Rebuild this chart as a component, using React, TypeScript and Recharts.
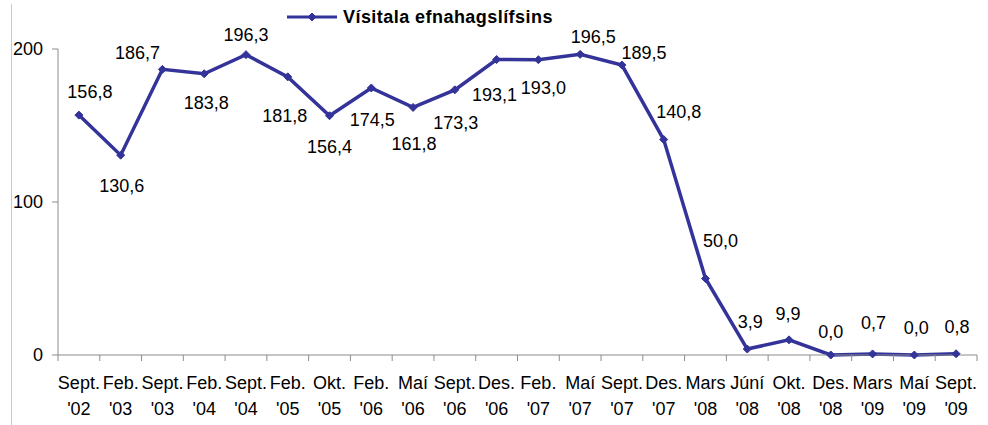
import { LineChart, Line, XAxis, YAxis, LabelList } from "recharts"

const categories = [
  "Sept. '02", "Feb. '03", "Sept. '03", "Feb. '04", "Sept. '04", "Feb. '05",
  "Okt. '05", "Feb. '06", "Maí '06", "Sept. '06", "Des. '06", "Feb. '07",
  "Maí '07", "Sept. '07", "Des. '07", "Mars '08", "Júní '08", "Okt. '08",
  "Des. '08", "Mars '09", "Maí '09", "Sept. '09",
]

const values = [
  156.8, 130.6, 186.7, 183.8, 196.3, 181.8, 156.4, 174.5, 161.8, 173.3, 193.1,
  193.0, 196.5, 189.5, 140.8, 50.0, 3.9, 9.9, 0.0, 0.7, 0.0, 0.8,
]

const yTicks = [0, 100, 200]

const seriesName = "Vísitala efnahagslífsins"

// label offset from the point (dx, dy of the text centre), as placed in the original
const labelOffsets: [number, number][] = [
  [11, -23], [1, 31], [-25, -16], [2, 29], [0, -20], [-3, 39], [0, 31],
  [1, 32], [1, 37], [1, 33], [-2, 35], [5, 28], [13, -17], [22, -12],
  [15, -28], [15, -38], [3, -27], [-1, -26], [0, -23], [1, -31], [2, -27],
  [1, -27],
]

const data = categories.map((name, i) => ({ name, value: values[i] }))

const W = 988
const H = 425
const LEFT = 58
const RIGHT = 11
const TOP = 49
const BOTTOM = 70
const PLOT_BOTTOM = H - BOTTOM
const BAND = (W - LEFT - RIGHT) / categories.length

const BLUE = "#333399"
const GREY = "#8c8c8c"
const FONT = "'Liberation Sans', Arial, sans-serif"

function Diamond(props: any) {
  const { cx, cy } = props
  if (cx == null || cy == null) return null
  const r = 4
  return (
    <path
      d={`M${cx},${cy - r} L${cx + r},${cy} L${cx},${cy + r} L${cx - r},${cy} Z`}
      fill={BLUE}
      stroke={BLUE}
    />
  )
}

function XTick(props: any) {
  const { x, payload, index } = props
  const [l1, l2] = String(payload.value).split(" ")
  const left = x - BAND / 2
  return (
    <g>
      <line x1={left} x2={left} y1={PLOT_BOTTOM} y2={PLOT_BOTTOM + 6} stroke={GREY} />
      {index === categories.length - 1 && (
        <line
          x1={x + BAND / 2}
          x2={x + BAND / 2}
          y1={PLOT_BOTTOM}
          y2={PLOT_BOTTOM + 6}
          stroke={GREY}
        />
      )}
      <text x={x} y={PLOT_BOTTOM + 34} textAnchor="middle" fontSize={18} fill="#000" fontFamily={FONT}>
        {l1}
      </text>
      <text x={x} y={PLOT_BOTTOM + 60} textAnchor="middle" fontSize={18} fill="#000" fontFamily={FONT}>
        {l2}
      </text>
    </g>
  )
}

function ValueLabel(props: any) {
  const { x, y, value, index } = props
  const [dx, dy] = labelOffsets[index] ?? [0, -20]
  return (
    <text
      x={x + dx}
      y={y + dy}
      textAnchor="middle"
      dominantBaseline="central"
      fontSize={18}
      fill="#000"
      fontFamily={FONT}
    >
      {Number(value).toFixed(1).replace(".", ",")}
    </text>
  )
}

export default function App() {
  return (
    <div
      style={{
        position: "absolute",
        left: 0,
        top: 0,
        width: W,
        height: H,
        background: "#fff",
        fontFamily: FONT,
      }}
    >
      {/* grey frame edge on the left */}
      <div
        style={{
          position: "absolute",
          left: 11,
          top: 4,
          width: 1,
          height: H - 4,
          background: "#c8c8c8",
        }}
      />

      {/* legend */}
      <div
        style={{
          position: "absolute",
          left: 287,
          top: 4,
          height: 26,
          display: "flex",
          alignItems: "center",
        }}
      >
        <svg width={50} height={26}>
          <line x1={0} x2={50} y1={13} y2={13} stroke={BLUE} strokeWidth={3} />
          <Diamond cx={25} cy={13} />
        </svg>
        <span
          style={{
            marginLeft: 6,
            fontSize: 18,
            fontWeight: 700,
            letterSpacing: 0.45,
            color: "#000",
            whiteSpace: "nowrap",
          }}
        >
          {seriesName}
        </span>
      </div>

      <LineChart
        width={W}
        height={H}
        data={data}
        margin={{ top: TOP, right: RIGHT, left: 10, bottom: 0 }}
      >
        <XAxis
          dataKey="name"
          interval={0}
          height={BOTTOM}
          padding={{ left: BAND / 2, right: BAND / 2 }}
          stroke={GREY}
          tickLine={false}
          tick={<XTick />}
        />
        <YAxis
          width={48}
          domain={[0, 200]}
          ticks={yTicks}
          stroke={GREY}
          tickSize={6}
          tickMargin={9}
          tick={{ fill: "#000", fontSize: 18, fontFamily: FONT }}
        />
        <Line
          type="linear"
          dataKey="value"
          name={seriesName}
          stroke={BLUE}
          strokeWidth={3.5}
          dot={<Diamond />}
          activeDot={false}
          isAnimationActive={false}
        >
          <LabelList dataKey="value" content={<ValueLabel />} />
        </Line>
      </LineChart>
    </div>
  )
}
